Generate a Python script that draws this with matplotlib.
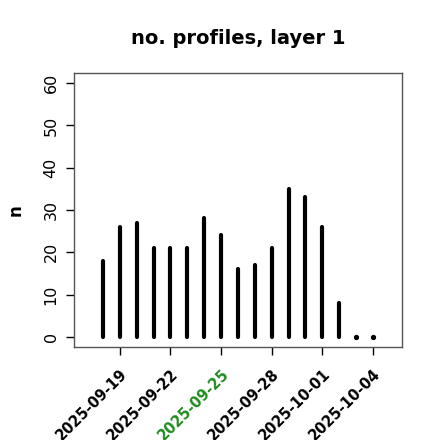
import numpy as np
import pandas as pd
import matplotlib
matplotlib.use("Agg")
import matplotlib.pyplot as plt
import matplotlib.dates as mdates

# daily number of profiles, layer 1
dates = pd.date_range("2025-09-18", "2025-10-04", freq="D")
counts = [18, 26, 27, 21, 21, 21, 28, 24, 16, 17, 21, 35, 33, 26, 8, 0, 0]
tick_dates = pd.to_datetime(["2025-09-19", "2025-09-22", "2025-09-25",
                             "2025-09-28", "2025-10-01", "2025-10-04"])
highlight = "2025-09-25"
yticks = [0, 10, 20, 30, 40, 50, 60]

fig = plt.figure(figsize=(4.4, 4.4), dpi=100)
ax = fig.add_axes([0.168, 0.2114, 0.7455, 0.6227])

x = mdates.date2num(dates)
ax.vlines(x, 0, counts, colors="black", linewidth=3.0, capstyle="round")
# zero counts still show up as a dot, like R's type="h"
zero = np.array(counts) == 0
ax.plot(x[zero], np.zeros(zero.sum()), "o", color="black", markersize=2.8)

x0 = mdates.date2num(pd.Timestamp("2025-09-17"))
x1 = mdates.date2num(pd.Timestamp("2025-10-05"))
pad = 0.04 * (x1 - x0)
ax.set_xlim(x0 - pad, x1 + pad)
ax.set_ylim(-2.4, 62.4)

ax.set_yticks(yticks)
ax.set_yticklabels([str(v) for v in yticks], rotation=90, va="center", fontsize=11.5)
ax.set_xticks(mdates.date2num(tick_dates))
labels = ax.set_xticklabels([d.strftime("%Y-%m-%d") for d in tick_dates],
                            rotation=45, ha="right", rotation_mode="anchor",
                            fontsize=10.5, fontweight="bold")
for lab, d in zip(labels, tick_dates):
    if d.strftime("%Y-%m-%d") == highlight:
        lab.set_color("#1e8c1e")

ax.tick_params(axis="both", length=6, width=1, color="black")
ax.tick_params(axis="x", pad=8)
ax.tick_params(axis="y", pad=5)
for s in ax.spines.values():
    s.set_color("#555555")
    s.set_linewidth(1)

ax.set_ylabel("n", fontweight="bold", fontsize=12, labelpad=14)
ax.set_title("no. profiles, layer 1", fontweight="bold", fontsize=14, pad=21)

fig.savefig("out.png", dpi=100)
